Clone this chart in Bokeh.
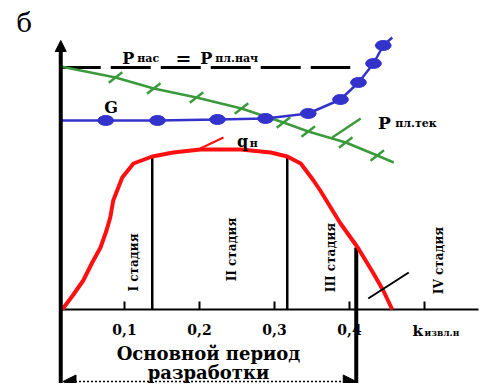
from bokeh.plotting import figure
from bokeh.models import Range1d, Arrow, NormalHead, Label
from bokeh.embed import file_html
from bokeh.resources import INLINE
import math

# ---- data (k = oil recovery factor, y = relative units) ----
q_k = [0.017, 0.031, 0.045, 0.057, 0.068, 0.076, 0.081, 0.085, 0.097, 0.112, 0.137,
       0.165, 0.201, 0.255, 0.295, 0.317, 0.335, 0.352, 0.361, 0.388, 0.411, 0.432, 0.445, 0.457]
q_y = [0.0, 0.14, 0.29, 0.47, 0.62, 0.79, 0.92, 1.09, 1.32, 1.46, 1.53,
       1.57, 1.60, 1.60, 1.57, 1.53, 1.46, 1.29, 1.19, 0.86, 0.62, 0.36, 0.19, 0.0]

g_k = [0.015, 0.075, 0.144, 0.224, 0.288, 0.345, 0.388, 0.412, 0.432, 0.445, 0.457]
g_y = [1.89, 1.89, 1.89, 1.90, 1.91, 1.96, 2.10, 2.27, 2.46, 2.64, 2.72]
g_mark_k = [0.075, 0.144, 0.224, 0.288, 0.345, 0.388, 0.412, 0.432, 0.445]
g_mark_y = [1.89, 1.89, 1.90, 1.91, 1.96, 2.10, 2.27, 2.46, 2.64]

p_k = [0.015, 0.088, 0.139, 0.196, 0.256, 0.312, 0.345, 0.395, 0.437, 0.459]
p_y = [2.43, 2.32, 2.21, 2.12, 2.01, 1.87, 1.78, 1.67, 1.54, 1.47]
p_mark_k = [0.088, 0.139, 0.196, 0.256, 0.312, 0.345, 0.395, 0.437]
p_mark_y = [2.32, 2.21, 2.12, 2.01, 1.87, 1.78, 1.67, 1.54]

p_init_k = [0.015, 0.401]
p_init_y = [2.42, 2.42]

stage_k = [0.137, 0.317, 0.409]
stage_top = [1.52, 1.53, 0.62]
stage_labels = ["I стадия", "II стадия", "III стадия", "IV стадия"]
stage_label_k = [0.113, 0.243, 0.376, 0.52]
stage_label_y = [0.47, 0.60, 0.52, 0.49]

tick_k = [0.1, 0.2, 0.3, 0.4, 0.5]
tick_labels = ["0,1", "0,2", "0,3", "0,4"]

axis_k0 = 0.015
FONT = "DejaVu Serif"

p = figure(width=484, height=383, x_range=Range1d(-0.06533, 0.58), y_range=Range1d(-0.74, 3.09),
           output_backend="svg", toolbar_location=None, min_border=0,
           x_axis_location=None, y_axis_location=None)
p.grid.visible = False
p.outline_line_color = None
p.background_fill_color = "white"
p.border_fill_color = "white"

# axes
p.add_layout(Arrow(end=NormalHead(size=11, fill_color="black", line_color="black"),
                   x_start=axis_k0, y_start=-0.9, x_end=axis_k0, y_end=2.69,
                   line_width=4, line_color="black"))
p.line([axis_k0, 0.572], [0, 0], line_color="black", line_width=2)
p.segment(x0=tick_k, y0=[0]*5, x1=tick_k, y1=[0.08]*5, line_color="black", line_width=2)

# stage boundaries
p.segment(x0=stage_k[:2], y0=[0, 0], x1=stage_k[:2], y1=stage_top[:2], line_color="black", line_width=2.5)
p.segment(x0=[stage_k[2]], y0=[-0.8], x1=[stage_k[2]], y1=[stage_top[2]], line_color="black", line_width=4)

# P_нас = P_пл.нач dashed line
p.line(p_init_k, p_init_y, line_color="black", line_width=3, line_dash="40 10")

# P_пл.тек line
green = "#3b9a3b"
p.line(p_k, p_y, line_color=green, line_width=2.5)
p.scatter(p_mark_k, p_mark_y, marker="dash", size=17, angle=0.65, line_color=green, line_width=2.5)
p.line([0.377, 0.415], [1.72, 1.91], line_color=green, line_width=2.5)

# G line
blue = "#3333cc"
p.line(g_k, g_y, line_color=blue, line_width=2.5)
p.ellipse(g_mark_k, g_mark_y, width=0.021, height=0.10, fill_color=blue, line_color=blue)

# q_н curve
p.line(q_k, q_y, line_color="#ff1010", line_width=4, line_join="round")
p.line([0.201, 0.232], [1.61, 1.72], line_color="#ff1010", line_width=2)

# pointer near IV stage
p.line([0.425, 0.479], [0.11, 0.37], line_color="black", line_width=2)

# double arrow for main period
p.add_layout(Arrow(start=NormalHead(size=13, fill_color="black", line_color="black"),
                   end=NormalHead(size=13, fill_color="black", line_color="black"),
                   x_start=0.018, y_start=-0.72, x_end=0.409, y_end=-0.72,
                   line_width=1.5, line_dash="2 2", line_color="black"))

def lab(x, y, t, size, align="left", baseline="alphabetic", angle=0.0, bold=True):
    p.add_layout(Label(x=x, y=y, text=t, text_font=FONT, text_font_size=f"{size}px",
                       text_font_style="bold" if bold else "normal", text_align=align,
                       text_baseline=baseline, angle=angle, text_color="black"))

lab(-0.044, 2.87, "б", 26, bold=False)
lab(0.097, 2.51, "P", 16)
lab(0.117, 2.51, "нас", 11)
lab(0.168, 2.52, "=", 19)
lab(0.201, 2.51, "P", 16)
lab(0.221, 2.51, "пл.нач", 11)
lab(0.073, 2.02, "G", 16)
lab(0.438, 1.87, "P", 17)
lab(0.461, 1.86, "пл.тек", 11)
lab(0.250, 1.68, "q", 16)
lab(0.267, 1.66, "н", 11)

for kk, t in zip(tick_k, tick_labels):
    lab(kk, -0.20, t, 14, align="center")
lab(0.484, -0.21, "k", 15)
lab(0.500, -0.23, "извл.н", 9)

for kk, yy, t in zip(stage_label_k, stage_label_y, stage_labels):
    lab(kk, yy, t, 12, align="center", baseline="middle", angle=math.pi / 2)

lab(0.212, -0.44, "Основной период", 18, align="center")
lab(0.212, -0.63, "разработки", 18, align="center")

open("out.html", "w").write(file_html(p, INLINE))
